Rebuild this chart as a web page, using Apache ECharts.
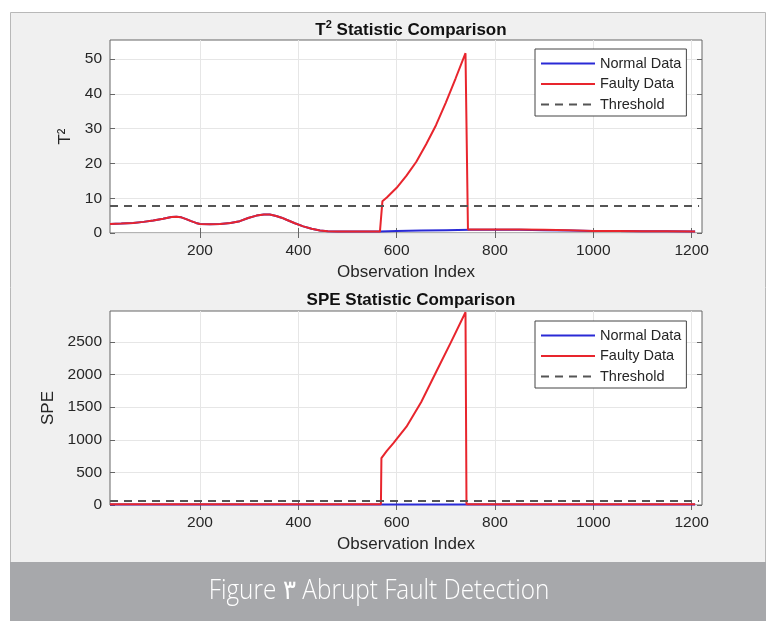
<!DOCTYPE html>
<html>
<head>
<meta charset="utf-8">
<title>Abrupt Fault Detection</title>
<script src="https://cdn.jsdelivr.net/npm/echarts@6.0.0/dist/echarts.min.js"></script>
<style>
  html, body { margin: 0; padding: 0; background: #fff; }
  #chart { width: 776px; height: 621px; }
</style>
</head>
<body>
<div id="chart"></div>
<script>
// tick labels
const xTicks = [200, 400, 600, 800, 1000, 1200]
const t2Ticks = [0, 10, 20, 30, 40, 50]
const speTicks = [0, 500, 1000, 1500, 2000, 2500]

// T^2 statistic
const t2NormalX = [17, 40, 64, 85, 105, 125, 142, 152, 162, 172, 182, 192, 200, 220, 241, 262, 281, 298, 315, 330, 342, 355, 366, 376, 393, 410, 427, 444, 460, 480, 520, 566, 600, 650, 700, 750, 800, 850, 900, 950, 1000, 1050, 1100, 1150, 1207]
const t2NormalY = [2.6, 2.7, 2.9, 3.2, 3.6, 4.1, 4.6, 4.7, 4.5, 4.0, 3.4, 2.9, 2.6, 2.5, 2.6, 2.9, 3.4, 4.3, 5.0, 5.3, 5.3, 4.9, 4.4, 3.8, 2.8, 1.9, 1.2, 0.7, 0.5, 0.4, 0.4, 0.4, 0.6, 0.7, 0.8, 0.9, 0.9, 0.9, 0.8, 0.7, 0.6, 0.6, 0.5, 0.5, 0.4]
const t2FaultyX = [17, 40, 64, 85, 105, 125, 142, 152, 162, 172, 182, 192, 200, 220, 241, 262, 281, 298, 315, 330, 342, 355, 366, 376, 393, 410, 427, 444, 460, 480, 520, 566, 569, 571, 580, 600, 620, 640, 660, 680, 700, 720, 740, 745, 800, 850, 900, 950, 1000, 1050, 1100, 1150, 1207]
const t2FaultyY = [2.6, 2.7, 2.9, 3.2, 3.6, 4.1, 4.6, 4.7, 4.5, 4.0, 3.4, 2.9, 2.6, 2.5, 2.6, 2.9, 3.4, 4.3, 5.0, 5.3, 5.3, 4.9, 4.4, 3.8, 2.8, 1.9, 1.2, 0.7, 0.5, 0.4, 0.4, 0.4, 0.4, 9.1, 10.2, 13.0, 16.5, 20.5, 25.5, 31.0, 37.5, 44.5, 51.7, 1.0, 1.0, 1.0, 0.9, 0.8, 0.6, 0.6, 0.5, 0.5, 0.4]
const t2ThresholdX = [17, 1215]
const t2ThresholdY = [7.8, 7.8]

// SPE statistic
const speNormalX = [17, 300, 569, 742, 1000, 1207]
const speNormalY = [6, 6, 6, 6, 6, 6]
const speFaultyX = [17, 300, 568, 569, 572, 580, 593, 620, 650, 681, 710, 740, 742, 1000, 1207]
const speFaultyY = [10, 10, 10, 720, 740, 830, 946, 1200, 1580, 2050, 2490, 2955, 12, 10, 10]
const speThresholdX = [17, 1215]
const speThresholdY = [60, 60]

const xMin = 17
const xMax = 1221
const font = "'Liberation Sans', Arial, sans-serif"
const textColor = '#262626'
const boxColor = '#666'
const blue = '#2a2ad6'
const red = '#e8252d'
const dashGray = '#555'

function zip(xs, ys) {
  return xs.map((x, i) => [x, ys[i]])
}

// plain numbers, no thousands separator
const plain = (v) => String(v)

function xAxes(gridIndex) {
  return [
    {
      type: 'value', gridIndex, min: xMin, max: xMax, position: 'bottom',
      name: 'Observation Index', nameLocation: 'middle', nameGap: 31,
      nameTextStyle: { fontSize: 17, color: textColor, fontFamily: font },
      axisLine: { show: false },
      axisTick: { inside: true, length: 5, customValues: xTicks, lineStyle: { color: boxColor } },
      axisLabel: { customValues: xTicks, formatter: plain, fontSize: 15.5, color: textColor, margin: 10, fontFamily: font },
      splitLine: { show: true, lineStyle: { color: '#e6e6e6' } },
    },
    {
      type: 'value', gridIndex, min: xMin, max: xMax, position: 'top',
      axisLine: { show: false },
      axisTick: { inside: true, length: 5, customValues: xTicks, lineStyle: { color: boxColor } },
      axisLabel: { show: false },
      splitLine: { show: false },
    },
  ]
}

function yAxes(gridIndex, max, ticks, name, nameGap) {
  return [
    {
      type: 'value', gridIndex, min: 0, max, position: 'left',
      name, nameLocation: 'middle', nameGap, nameRotate: 90,
      nameTextStyle: { fontSize: 17, color: textColor, fontFamily: font },
      axisLine: { show: false },
      axisTick: { inside: true, length: 5, customValues: ticks, lineStyle: { color: boxColor } },
      axisLabel: { customValues: ticks, formatter: plain, fontSize: 15.5, color: textColor, margin: 8, fontFamily: font },
      splitLine: { show: true, lineStyle: { color: '#e6e6e6' } },
    },
    {
      type: 'value', gridIndex, min: 0, max, position: 'right',
      axisLine: { show: false },
      axisTick: { inside: true, length: 5, customValues: ticks, lineStyle: { color: boxColor } },
      axisLabel: { show: false },
      splitLine: { show: false },
    },
  ]
}

function lineSeries(name, axisIdx, xs, ys, color, dashed) {
  return {
    name, type: 'line', xAxisIndex: axisIdx, yAxisIndex: axisIdx,
    data: zip(xs, ys), symbol: 'none', clip: false,
    lineStyle: { color, width: 2, type: dashed ? [8, 6] : 'solid' },
    itemStyle: { color },
  }
}

function legendAt(top) {
  return {
    left: 535, top, orient: 'vertical', selectedMode: false,
    data: ['Normal Data', 'Faulty Data', 'Threshold'],
    itemWidth: 54, itemHeight: 14, itemGap: 5.5,
    padding: [7, 5, 4, 5],
    // line only, hide the marker drawn on it
    itemStyle: { opacity: 0 },
    backgroundColor: '#fff', borderColor: '#444', borderWidth: 1,
    textStyle: { fontSize: 14.5, color: textColor, fontFamily: font },
  }
}

const chart = echarts.init(document.getElementById('chart'))
chart.setOption({
  animation: false,
  backgroundColor: '#fff',
  graphic: [
    { type: 'rect', z: -10, shape: { x: 10.5, y: 12.5, width: 755, height: 550 },
      style: { fill: '#f0f0f0', stroke: '#b8b8b8', lineWidth: 1 } },
    { type: 'rect', z: -9, shape: { x: 10, y: 562, width: 756, height: 59 },
      style: { fill: '#a7a8ab' } },
    { type: 'text', x: 379, y: 591, scaleX: 0.9,
      style: { text: 'Figure ٣ Abrupt Fault Detection', fontSize: 27, fontWeight: 300,
        fontFamily: "'Open Sans', sans-serif", fill: '#fff', align: 'center', verticalAlign: 'middle' } },
  ],
  title: [
    {
      text: '{t|T}{s|2}{t| Statistic Comparison}', left: 406, top: 14, textAlign: 'center',
      textStyle: {
        rich: {
          t: { fontSize: 17, fontWeight: 'bold', fontFamily: font, color: '#111', lineHeight: 22 },
          s: { fontSize: 11, fontWeight: 'bold', fontFamily: font, color: '#111', verticalAlign: 'top', lineHeight: 12 },
        },
      },
    },
    {
      text: 'SPE Statistic Comparison', left: 406, top: 287, textAlign: 'center',
      textStyle: { fontSize: 17, fontWeight: 'bold', fontFamily: font, color: '#111' },
    },
  ],
  legend: [legendAt(49), legendAt(321)],
  grid: [
    { left: 110, top: 40, width: 592, height: 193, show: true, backgroundColor: '#fff', borderColor: boxColor, borderWidth: 1 },
    { left: 110, top: 311, width: 592, height: 194, show: true, backgroundColor: '#fff', borderColor: boxColor, borderWidth: 1 },
  ],
  xAxis: [...xAxes(0), ...xAxes(1)],
  yAxis: [...yAxes(0, 55.5, t2Ticks, 'T²', 25), ...yAxes(1, 2975, speTicks, 'SPE', 40)],
  series: [
    lineSeries('Normal Data', 0, t2NormalX, t2NormalY, blue, false),
    lineSeries('Faulty Data', 0, t2FaultyX, t2FaultyY, red, false),
    lineSeries('Threshold', 0, t2ThresholdX, t2ThresholdY, dashGray, true),
    lineSeries('Normal Data', 2, speNormalX, speNormalY, blue, false),
    lineSeries('Faulty Data', 2, speFaultyX, speFaultyY, red, false),
    lineSeries('Threshold', 2, speThresholdX, speThresholdY, dashGray, true),
  ],
})
</script>
</body>
</html>
